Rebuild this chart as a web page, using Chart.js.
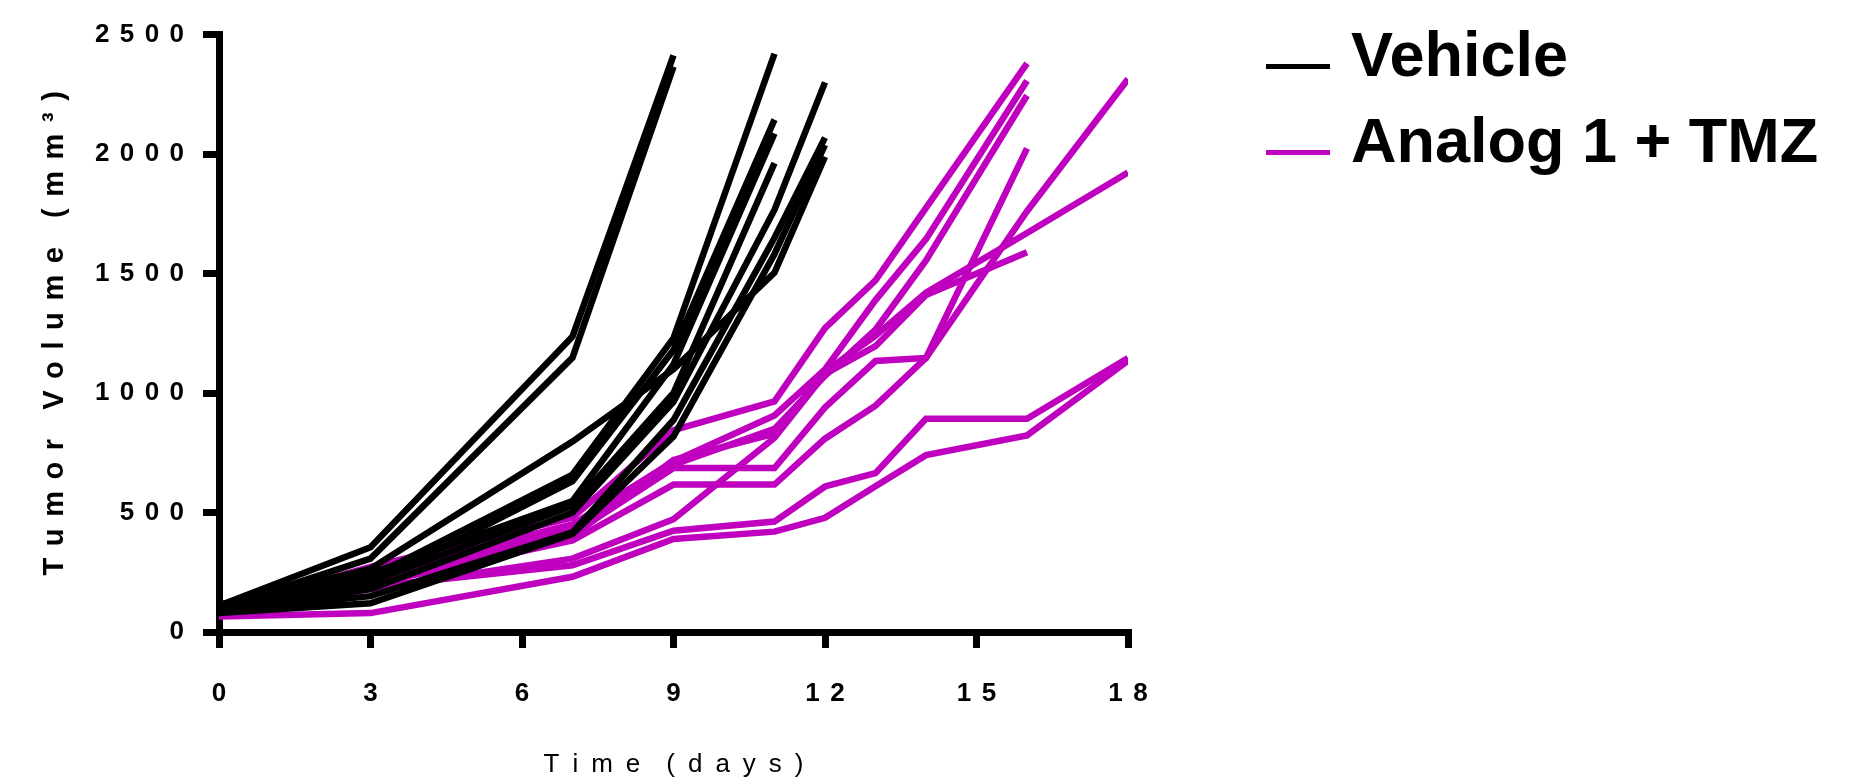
<!DOCTYPE html>
<html>
<head>
<meta charset="utf-8">
<script src="https://cdn.jsdelivr.net/npm/chart.js@4"></script>
<style>
  html, body { margin: 0; padding: 0; background: #fff; }
  #wrap { position: relative; width: 1849px; height: 782px; }
  #legend { position: absolute; left: 1266px; top: 11px; font-family: 'Liberation Sans', Arial, sans-serif; font-weight: bold; font-size: 63px; line-height: 86px; color: #000; }
  .item { position: relative; height: 86px; padding-left: 85px; white-space: nowrap; }
  .swatch { position: absolute; left: 0; top: 53px; width: 64px; height: 5px; }
</style>
</head>
<body>
<div id="wrap">
  <canvas id="tumor-chart"></canvas>
  <div id="legend"></div>
</div>
<script>
// measurement days (each mouse has values for the first N days)
const days = [0, 3, 7, 9, 11, 12, 13, 14, 16, 18];

// Vehicle mice, tumor volume (mm3)
const vehicleMice = [
    [110, 355, 1237, 2413],
    [100, 307, 1148, 2366],
    [105, 230, 659, 1230, 2420],
    [95, 200, 631, 1180, 2144],
    [115, 245, 548, 1120, 2086],
    [100, 210, 528, 1000, 1962],
    [90, 180, 500, 963, 1767, 2300],
    [85, 150, 417, 887, 1650, 2069],
    [80, 120, 410, 818, 1582, 2038],
    [110, 265, 797, 1100, 1504, 1989]
];

// Analog 1 + TMZ mice
const analogMice = [
    [95, 272, 479, 845, 965, 1272, 1472, 1775, 2380],
    [88, 240, 450, 714, 906, 1099, 1389, 1644, 2307],
    [82, 225, 430, 700, 850, 1072, 1265, 1555, 2245],
    [78, 210, 410, 686, 686, 940, 1134, 1147, 2024],
    [72, 180, 307, 472, 813, 1080, 1196, 1410, 1589],
    [75, 200, 383, 617, 617, 809, 947, 1147, 1761, 2314],
    [80, 220, 400, 720, 830, 1090, 1240, 1420, 1670, 1923],
    [70, 189, 279, 424, 462, 609, 665, 892, 892, 1147],
    [65, 79, 231, 389, 420, 478, 610, 740, 823, 1135]
];

const groups = [
    { label: 'Vehicle', color: '#000000', mice: vehicleMice },
    { label: 'Analog 1 + TMZ', color: '#bf00bf', mice: analogMice }
];

const xTicks = [0, 3, 6, 9, 12, 15, 18];
const yTicks = [0, 500, 1000, 1500, 2000, 2500];

const font = "'Liberation Sans', Arial, sans-serif";
const gap = '\u2009\u2009';
const spaced = s => String(s).split('').join(gap);
const spacedWords = (s, g, wg) => s.split(' ').map(w => w.split('').join(g)).join(wg);

const datasets = [];
groups.forEach(g => {
    g.mice.forEach(vals => {
        datasets.push({
            label: g.label,
            data: vals.map((v, i) => ({ x: days[i], y: v })),
            borderColor: g.color,
            backgroundColor: g.color,
            borderWidth: 6.5,
            pointRadius: 0,
            tension: 0,
            borderJoinStyle: 'miter',
            fill: false
        });
    });
});

const ctx = document.getElementById('tumor-chart').getContext('2d');
new Chart(ctx, {
    type: 'line',
    data: { datasets: datasets },
    options: {
        responsive: true,
        maintainAspectRatio: false,
        animation: false,
        layout: { padding: { top: 28, right: 721, bottom: 0, left: 0 } },
        plugins: { legend: { display: false }, tooltip: { enabled: false } },
        scales: {
            x: {
                type: 'linear',
                min: xTicks[0],
                max: xTicks[xTicks.length - 1],
                afterBuildTicks: s => { s.ticks = xTicks.map(v => ({ value: v })); },
                afterFit: s => { s.height = 150; },
                ticks: { padding: 30, color: '#000', font: { family: font, size: 26, weight: 'bold' }, callback: v => spaced(v) },
                grid: { drawOnChartArea: false, tickLength: 16, lineWidth: 7, color: '#000' },
                border: { width: 7, color: '#000' },
                title: { display: true, text: spacedWords('Time (days)', '\u2002', '\u2002\u2002'), color: '#000', font: { family: font, size: 26 }, padding: { top: 0, bottom: 2 } }
            },
            y: {
                min: yTicks[0],
                max: yTicks[yTicks.length - 1],
                afterBuildTicks: s => { s.ticks = yTicks.map(v => ({ value: v })); },
                afterFit: s => { s.width = 219; },
                ticks: { padding: 19, color: '#000', font: { family: font, size: 26, weight: 'bold' }, callback: v => spaced(v) },
                grid: { drawOnChartArea: false, tickLength: 16, lineWidth: 7, color: '#000' },
                border: { width: 7, color: '#000' },
                title: { display: true, text: spacedWords('Tumor Volume (mm\u00b3)', gap, '\u2002\u2002'), color: '#000', font: { family: font, size: 29, weight: 'bold' }, padding: { top: 38, bottom: 0 } }
            }
        }
    }
});

// legend
const legend = document.getElementById('legend');
groups.forEach(g => {
    const item = document.createElement('div');
    item.className = 'item';
    const sw = document.createElement('span');
    sw.className = 'swatch';
    sw.style.background = g.color;
    item.appendChild(sw);
    item.appendChild(document.createTextNode(g.label));
    legend.appendChild(item);
});
</script>
</body>
</html>
